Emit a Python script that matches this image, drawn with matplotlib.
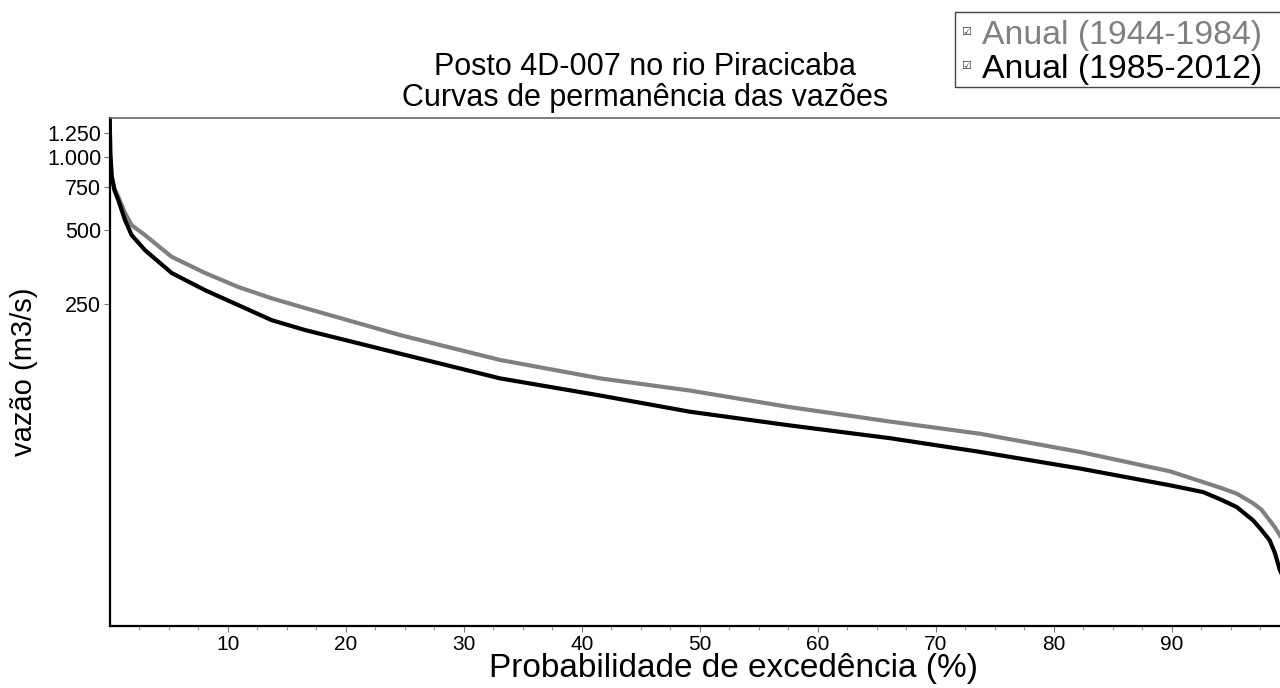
import matplotlib
matplotlib.use("Agg")
import matplotlib.pyplot as plt
from matplotlib.patches import Rectangle

plt.rcParams['font.family'] = ['Liberation Sans', 'DejaVu Sans']

# curvas de permanencia (leitura do grafico)
pct = [0, 0.05, 0.17, 0.4, 0.73, 1.3, 1.86, 2.99, 5.25, 8.08, 10.87, 13.73, 16.55,
       24.6, 33.07, 41.55, 49.17, 57.65, 66.1, 73.75, 82.2, 89.85, 92.65, 94.1,
       95.5, 96.9, 97.6, 98.3, 98.75, 99.17, 100]
q_1944_1984 = [1450, 1030, 830, 740, 685, 588, 525, 478, 390, 335, 294, 264, 241,
               187, 148, 124.5, 111, 95, 83, 74, 62.4, 52, 47, 44.6, 42.2, 38.5,
               36.3, 32.8, 30.7, 28.5, 25]
q_1985_2012 = [1450, 1030, 830, 730, 664, 550, 478, 415, 335, 285, 248, 215, 196,
               157, 124.5, 106, 91, 80, 71, 62.4, 53.4, 45.6, 42.8, 40, 37.2, 32.8,
               30, 27.2, 24.1, 20.5, 17]
series_names = ['Anual (1944-1984)', 'Anual (1985-2012)']
series_colors = ['#808080', '#000000']

yticks = [250, 500, 750, 1000, 1250]
ytick_labels = ['250', '500', '750', '1.000', '1.250']
xticks = [10, 20, 30, 40, 50, 60, 70, 80, 90]

fig = plt.figure(figsize=(12.8, 6.88), dpi=100)
ax = fig.add_axes([0.0857, 0.0906, 0.9219, 0.7379])

ax.plot(pct, q_1944_1984, color=series_colors[0], lw=3.0, solid_joinstyle='round')
ax.plot(pct, q_1985_2012, color=series_colors[1], lw=3.0, solid_joinstyle='round')

ax.set_yscale('log')
ax.set_xlim(0, 100)
ax.set_ylim(12.2, 1436)
ax.set_yticks(yticks)
ax.set_yticklabels(ytick_labels)
ax.yaxis.set_minor_locator(matplotlib.ticker.NullLocator())
ax.set_xticks(xticks)
ax.set_xticks([i * 2.5 for i in range(1, 40)], minor=True)

ax.tick_params(axis='both', which='major', direction='out', length=4, width=0.8,
               color='#777777', labelsize=15, pad=3)
ax.tick_params(axis='y', which='major', labelsize=15.5, pad=2)
ax.tick_params(axis='x', which='minor', direction='out', length=3, width=0.8,
               color='#999999')

for s in ['left', 'bottom']:
    ax.spines[s].set_linewidth(1.6)
    ax.spines[s].set_color('black')
ax.spines['top'].set_linewidth(1.2)
ax.spines['top'].set_color('#666666')
ax.spines['right'].set_visible(False)

fig.text(0.504, 0.903, 'Posto 4D-007 no rio Piracicaba', ha='center', va='center', fontsize=22)
fig.text(0.504, 0.857, 'Curvas de permanência das vazões', ha='center', va='center', fontsize=22)
fig.text(0.573, 0.029, 'Probabilidade de excedência (%)', ha='center', va='center', fontsize=24)
fig.text(0.019, 0.459, 'vazão (m3/s)', ha='center', va='center', rotation=90, fontsize=21)

# legenda
fig.patches.append(Rectangle((0.746, 0.8735), 0.27, 0.109, transform=fig.transFigure,
                             facecolor='white', edgecolor='#444444', lw=1.0))
for i, (name, c) in enumerate(zip(series_names, series_colors)):
    yc = 0.949 - i * 0.0494
    fig.text(0.7505, yc + 0.005, '\u2611', ha='left', va='center', fontsize=8,
             color='#333333', family=['DejaVu Sans'])
    fig.text(0.767, yc, name, ha='left', va='center', fontsize=24.3, color=c,
             family=['Liberation Sans'])

fig.savefig('out.png', dpi=100)
